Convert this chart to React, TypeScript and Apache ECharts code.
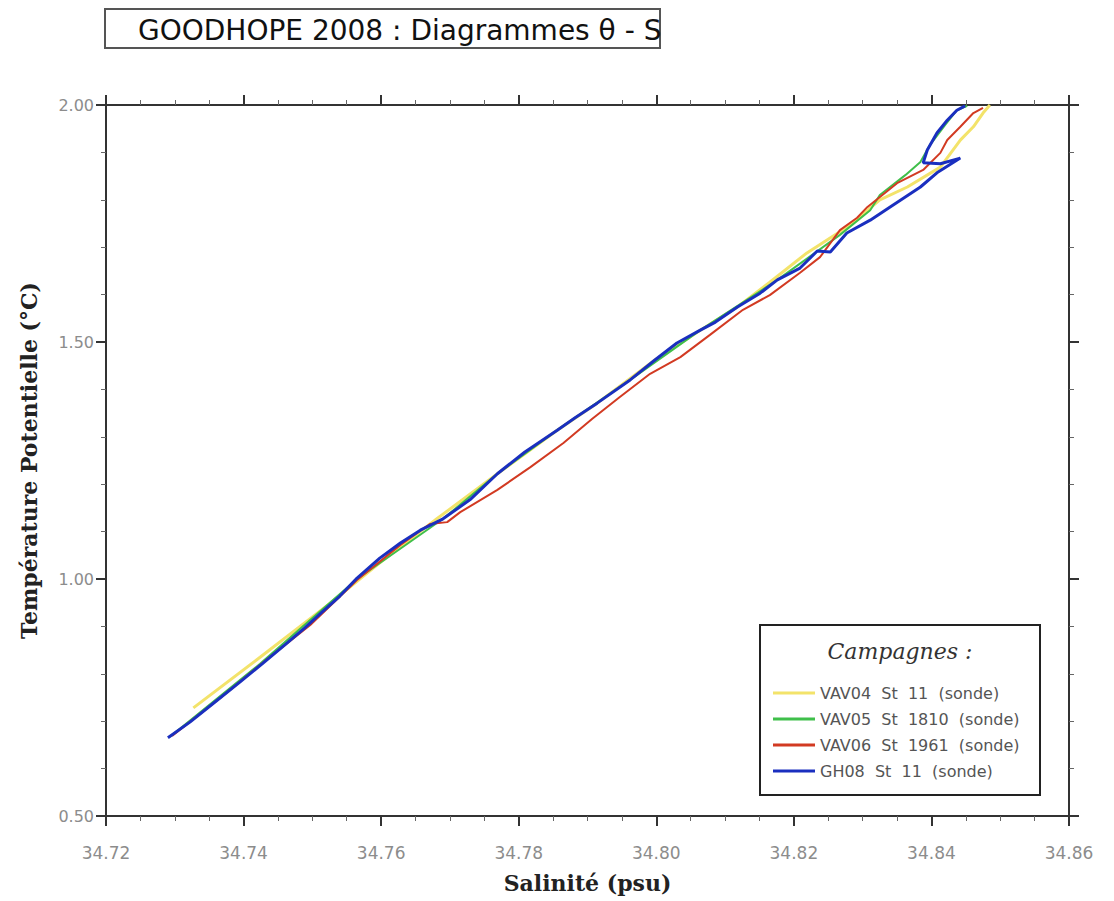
import React, { useEffect, useRef } from "react";
import * as echarts from "echarts";

const seriesNames = [
  "VAV04  St  11  (sonde)",
  "VAV05  St  1810  (sonde)",
  "VAV06  St  1961  (sonde)",
  "GH08  St  11  (sonde)",
];
const seriesColors = ["#f3e36a", "#3fbf4a", "#d23a22", "#1a2fbf"];
const seriesWidths = [3, 2, 2, 3];

const xTicks = [34.72, 34.74, 34.76, 34.78, 34.8, 34.82, 34.84, 34.86];
const yTicks = [0.5, 1.0, 1.5, 2.0];

// [salinity, theta]
const vav04: number[][] = [
  [34.7327, 0.728], [34.7424, 0.835], [34.7526, 0.949], [34.7598, 1.034],
  [34.7681, 1.127], [34.7769, 1.222], [34.7856, 1.314], [34.7914, 1.371],
  [34.7998, 1.462], [34.8064, 1.525], [34.8118, 1.574], [34.8165, 1.626],
  [34.8219, 1.688], [34.8282, 1.747], [34.8325, 1.8], [34.8365, 1.827],
  [34.8413, 1.869], [34.8442, 1.926], [34.8461, 1.954], [34.8475, 1.983],
  [34.8485, 2.0],
];
const vav05: number[][] = [
  [34.7293, 0.667], [34.7424, 0.821], [34.7565, 1.0], [34.769, 1.127],
  [34.7769, 1.222], [34.7856, 1.314], [34.7962, 1.42], [34.8064, 1.525],
  [34.8176, 1.631], [34.8267, 1.726], [34.8311, 1.778], [34.8325, 1.81],
  [34.8362, 1.852], [34.8384, 1.88], [34.8398, 1.916], [34.842, 1.958],
  [34.8437, 1.989], [34.8452, 1.998],
];
const vav06: number[][] = [
  [34.7296, 0.669], [34.7366, 0.749], [34.7431, 0.827], [34.7497, 0.903],
  [34.7565, 0.998], [34.7628, 1.072], [34.7671, 1.116], [34.7696, 1.12],
  [34.7715, 1.141], [34.7769, 1.188], [34.7817, 1.236], [34.7865, 1.287],
  [34.7907, 1.338], [34.7947, 1.384], [34.7991, 1.433], [34.8035, 1.468],
  [34.8078, 1.515], [34.8126, 1.568], [34.8165, 1.599], [34.8209, 1.646],
  [34.8238, 1.679], [34.8267, 1.736], [34.8292, 1.762], [34.8307, 1.785],
  [34.835, 1.835], [34.8388, 1.863], [34.8413, 1.899], [34.8423, 1.926],
  [34.8442, 1.954], [34.8461, 1.983], [34.8475, 1.994],
];
const gh08: number[][] = [
  [34.729, 0.665], [34.7322, 0.698], [34.7358, 0.74], [34.7395, 0.783],
  [34.7427, 0.821], [34.746, 0.861], [34.7489, 0.897], [34.7514, 0.93],
  [34.754, 0.964], [34.7565, 1.002], [34.7598, 1.044], [34.7628, 1.076],
  [34.7657, 1.103], [34.769, 1.127], [34.7729, 1.167], [34.7769, 1.222],
  [34.7809, 1.268], [34.7856, 1.314], [34.7882, 1.34], [34.7914, 1.371],
  [34.7962, 1.42], [34.7998, 1.462], [34.803, 1.498], [34.8064, 1.525],
  [34.8086, 1.542], [34.8118, 1.574], [34.8151, 1.603], [34.8176, 1.631],
  [34.8209, 1.656], [34.8234, 1.692], [34.8253, 1.69], [34.8277, 1.73],
  [34.8311, 1.757], [34.834, 1.785], [34.8384, 1.827], [34.8408, 1.857],
  [34.8442, 1.888], [34.8413, 1.876], [34.8388, 1.878], [34.8394, 1.905],
  [34.8408, 1.941], [34.8423, 1.968], [34.8437, 1.989], [34.8449, 1.998],
];
const seriesData = [vav04, vav05, vav06, gh08];

const labelColor = "#8c8c8c";
const axisColor = "#333";

export default function App() {
  const ref = useRef<HTMLDivElement>(null);
  useEffect(() => {
    if (!ref.current) return;
    const chart = echarts.init(ref.current, null, { renderer: "svg" });
    const xMin = xTicks[0];
    const xMax = xTicks[xTicks.length - 1];
    const yMin = yTicks[0];
    const yMax = yTicks[yTicks.length - 1];
    const common = {
      type: "value" as const,
      splitLine: { show: false },
      axisLine: { show: true, onZero: false, lineStyle: { color: axisColor, width: 2 } },
      axisTick: { show: true, inside: false, length: 10, lineStyle: { color: axisColor, width: 2 } },
      minorTick: { show: true, length: 5, lineStyle: { color: "#666", width: 1 } },
    };
    chart.setOption({
      animation: false,
      backgroundColor: "#ffffff",
      title: {
        text: "GOODHOPE 2008 : Diagrammes θ - S",
        left: 133,
        top: 11,
        textStyle: {
          fontFamily: "DejaVu Sans",
          fontSize: 28,
          fontWeight: "normal",
          color: "#111",
        },
      },
      grid: { left: 106, top: 105, right: 45, bottom: 85, containLabel: false },
      xAxis: [
        {
          ...common,
          min: xMin,
          max: xMax,
          interval: 0.02,
          minorTick: { ...common.minorTick, splitNumber: 4 },
          axisLabel: {
            color: labelColor,
            fontSize: 17,
            fontFamily: "DejaVu Sans",
            margin: 8,
            padding: [20, 0, 0, 0],
            formatter: (v: number) => v.toFixed(2),
          },
          name: "Salinité (psu)",
          nameLocation: "middle",
          nameGap: 56,
          nameTextStyle: {
            fontFamily: "DejaVu Serif",
            fontWeight: "bold",
            fontSize: 22,
            color: "#222",
          },
        },
        {
          ...common,
          position: "top",
          min: xMin,
          max: xMax,
          interval: 0.02,
          minorTick: { ...common.minorTick, splitNumber: 4 },
          axisLabel: { show: false },
        },
      ],
      yAxis: [
        {
          ...common,
          min: yMin,
          max: yMax,
          interval: 0.5,
          minorTick: { ...common.minorTick, splitNumber: 5 },
          axisLabel: {
            color: labelColor,
            fontSize: 16,
            fontFamily: "DejaVu Sans",
            margin: 12,
            formatter: (v: number) => v.toFixed(2),
          },
          name: "Température Potentielle (°C)",
          nameLocation: "middle",
          nameGap: 66,
          nameTextStyle: {
            fontFamily: "DejaVu Serif",
            fontWeight: "bold",
            fontSize: 22,
            color: "#222",
          },
        },
        {
          ...common,
          position: "right",
          min: yMin,
          max: yMax,
          interval: 0.5,
          minorTick: { ...common.minorTick, splitNumber: 5 },
          axisLabel: { show: false },
        },
      ],
      legend: {
        orient: "vertical",
        left: 768,
        top: 680,
        z: 20,
        itemWidth: 42,
        itemHeight: 3,
        itemGap: 10,
        icon: "rect",
        selectedMode: false,
        textStyle: { color: "#555", fontSize: 16, fontFamily: "DejaVu Sans" },
        data: seriesNames,
      },
      graphic: [
        {
          type: "rect",
          shape: { x: 105, y: 9, width: 555, height: 39 },
          style: { fill: "none", stroke: "#555", lineWidth: 2 },
          silent: true,
          z: 1,
        },
        {
          type: "rect",
          shape: { x: 760, y: 625, width: 280, height: 170 },
          style: { fill: "#fff", stroke: "#222", lineWidth: 2 },
          silent: true,
          z: 5,
        },
        {
          type: "text",
          x: 900,
          y: 651,
          style: {
            text: "Campagnes :",
            fontFamily: "DejaVu Serif",
            fontStyle: "italic",
            fontSize: 22,
            fill: "#333",
            align: "center",
            verticalAlign: "middle",
          },
          z: 6,
        },
      ],
      series: seriesData.map((d, i) => ({
        name: seriesNames[i],
        type: "line",
        data: d,
        showSymbol: false,
        symbol: "none",
        color: seriesColors[i],
        lineStyle: { color: seriesColors[i], width: seriesWidths[i] },
        z: 2 + i,
        clip: true,
      })),
    });
    return () => chart.dispose();
  }, []);
  return (
    <div
      ref={ref}
      style={{ position: "absolute", left: 0, top: 0, width: 1114, height: 901 }}
    />
  );
}
